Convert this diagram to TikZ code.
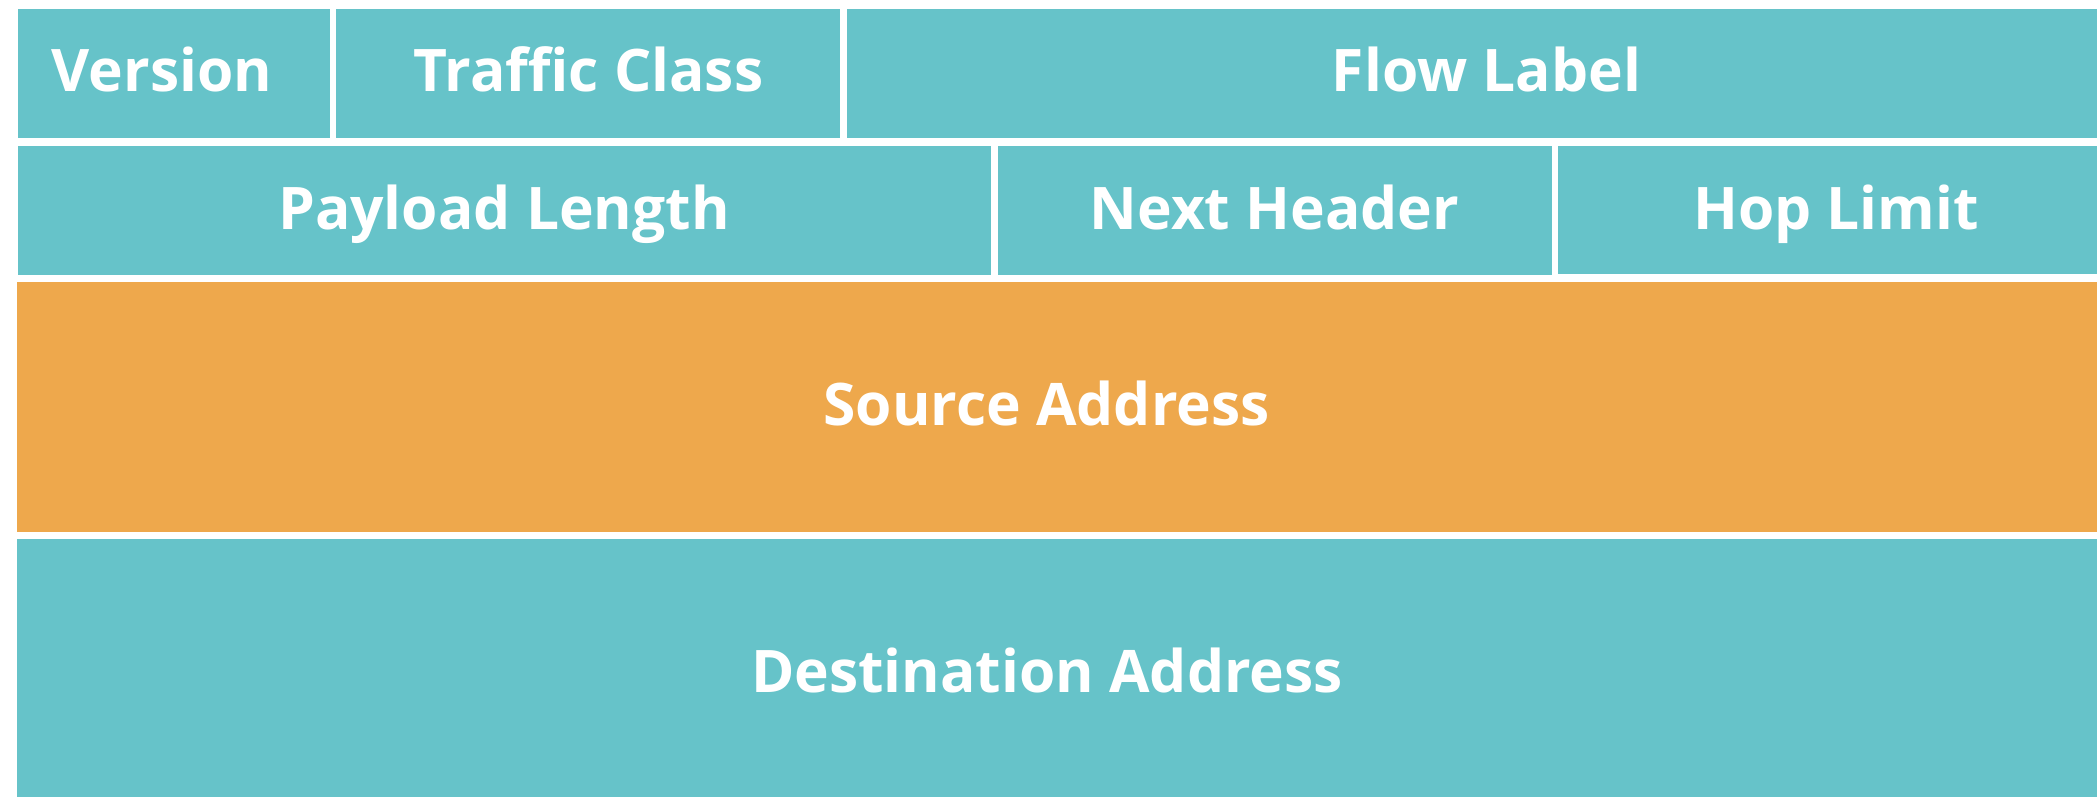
\documentclass[tikz,border=0pt]{standalone}
\usepackage{fontspec}
\setmainfont{Open Sans}
\definecolor{teal}{RGB}{102,195,201}
\definecolor{orng}{RGB}{238,168,76}
\tikzset{
  field/.style={fill=teal},
  ofield/.style={fill=orng},
  lbl/.style={anchor=base, text=white, inner sep=0pt, font=\fontsize{58.7}{66}\selectfont\bfseries}
}
\begin{document}
\begin{tikzpicture}[x=1pt,y=-1pt]
\useasboundingbox (0,0) rectangle (2097,797);
% row 1
\path[field] (18,9) rectangle (330,138);
\path[field] (336,9) rectangle (839.5,138);
\path[field] (846.5,9) rectangle (2097,138);
% row 2
\path[field] (18,146) rectangle (990.5,275);
\path[field] (997.5,146) rectangle (1552,275);
\path[field] (1558,146) rectangle (2097,274);
% source / destination
\path[ofield] (17,282) rectangle (2097,532);
\path[field] (17,539) rectangle (2097,797);
% labels
\node[lbl] (ver) at (162,92) {Version};
\node[lbl] (tc) at (588.5,92) {Traffic Class};
\node[lbl] (fl) at (1486.5,92) {Flow Label};
\node[lbl] (pl) at (504,229) {Payload Length};
\node[lbl] (nh) at (1274.5,229) {Next Header};
\node[lbl] (hl) at (1836,229) {Hop Limit};
\node[lbl] (src) at (1046.5,425) {Source Address};
\node[lbl] (dst) at (1047,692) {Destination Address};
\end{tikzpicture}
\end{document}
